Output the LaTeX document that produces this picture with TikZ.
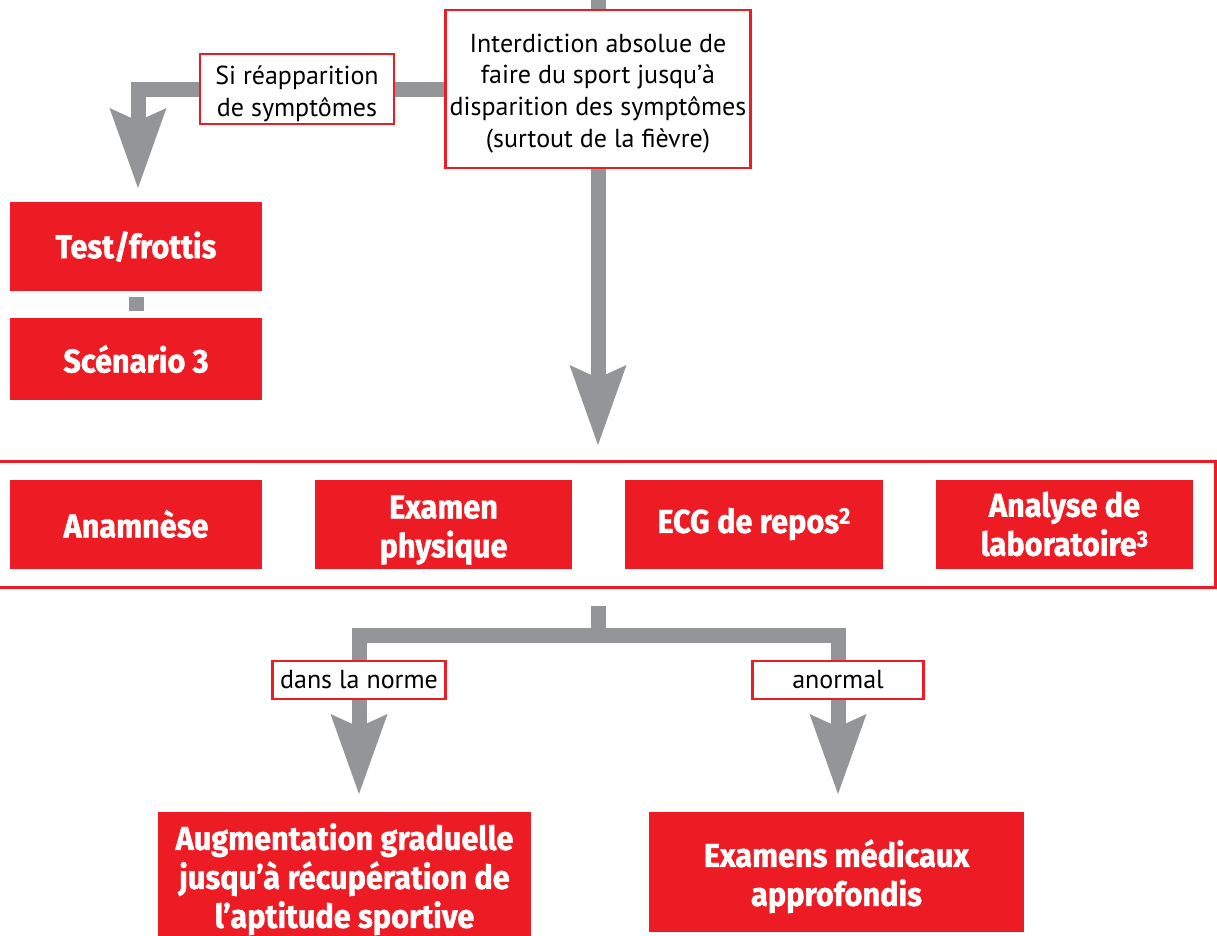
\documentclass[tikz,border=0pt]{standalone}
\usepackage{fontspec}
\setmainfont{PT Sans}
\newfontfamily\lblfont{PT Sans}
\newfontfamily\redfontfam{Fira Sans}[FakeStretch=0.93, FakeBold=1.2]
\usetikzlibrary{arrows.meta}
\definecolor{redc}{HTML}{ED1C24}
\definecolor{grayc}{HTML}{939598}
\newcommand{\mytopstrut}[1]{\rule{0pt}{#1}}
\tikzset{
  shaft/.style={draw=grayc, line width=15pt, line join=miter},
  arr/.style={-{Stealth[length=80pt,width=57pt,inset=13pt,line width=0pt]}},
  lbl/.style={draw=redc, line width=2.2pt, fill=white, align=center, inner sep=0pt,
    font=\lblfont\fontsize{26}{31.7}\selectfont},
  redbox/.style={fill=redc, text=white, align=center, inner sep=0pt,
    font=\redfontfam\bfseries\fontsize{33}{39}\selectfont},
  rowbox/.style={draw=redc, line width=3pt, inner sep=0pt}
}
\begin{document}
\begin{tikzpicture}[x=1pt,y=-1pt]
\useasboundingbox (0,0) rectangle (1217,935);
% nodes
\node[lbl, minimum width=305pt, minimum height=158pt] (ban) at (598,89)
  {\mytopstrut{27pt}Interdiction absolue de\\faire du sport jusqu’à\\disparition des symptômes\\(surtout de la fièvre)};
\node[lbl, minimum width=194pt, minimum height=70pt] (si) at (297,89)
  {\mytopstrut{28pt}Si réapparition\\de symptômes};
\node[redbox, minimum width=252pt, minimum height=89pt] (test) at (136,246.5) {Test/frottis};
\node[redbox, minimum width=252pt, minimum height=82pt] (scen) at (136,359) {Scénario 3};
\node[rowbox, minimum width=1225pt, minimum height=126pt] (outer) at (602.5,524.5) {};
\node[redbox, minimum width=252pt, minimum height=89pt] (anam) at (136,524) {Anamnèse};
\node[redbox, minimum width=257pt, minimum height=89pt] (exam) at (443.5,524) {\mytopstrut{35pt}Examen\\physique};
\node[redbox, minimum width=258pt, minimum height=89pt] (ecg) at (754,524) {ECG de repos\textsuperscript{2}};
\node[redbox, minimum width=257pt, minimum height=89pt] (ana) at (1064.5,524) {Analyse de\\laboratoire\textsuperscript{3}};
\node[lbl, minimum width=173pt, minimum height=38pt] (norme) at (359,680) {dans la norme};
\node[lbl, minimum width=171pt, minimum height=38pt] (anormal) at (838,680) {anormal};
\node[redbox, minimum width=373pt, minimum height=125pt] (aug) at (344.5,874.5)
  {\mytopstrut{36pt}Augmentation graduelle\\jusqu’à récupération de\\l’aptitude sportive};
\node[redbox, minimum width=375pt, minimum height=120pt] (exm) at (836.5,872)
  {\mytopstrut{36pt}Examens médicaux\\approfondis};
% coordinates
\coordinate (t0) at (598,-10);
\coordinate (t1) at (598,445);
\coordinate (t2) at (138,188);
\coordinate (stub) at (598,606);
\coordinate (bj) at (598,635.5);
\coordinate (t3) at (359,794);
\coordinate (t4) at (838,794);
% connectors
\draw[shaft] (t0) -- (ban.north);
\draw[shaft, arr] (ban.south) -- (t1);
\draw[shaft] (ban.west) -- (si.east);
\draw[shaft, arr] (si.west) -| (t2);
\draw[shaft, shorten <=6pt, shorten >=7pt] (test.south) -- (scen.north);
\draw[shaft] (stub) -- (bj);
\draw[shaft] (norme.north) |- (bj) -| (anormal.north);
\draw[shaft, arr] (norme.south) -- (t3);
\draw[shaft, arr] (anormal.south) -- (t4);
\end{tikzpicture}
\end{document}
